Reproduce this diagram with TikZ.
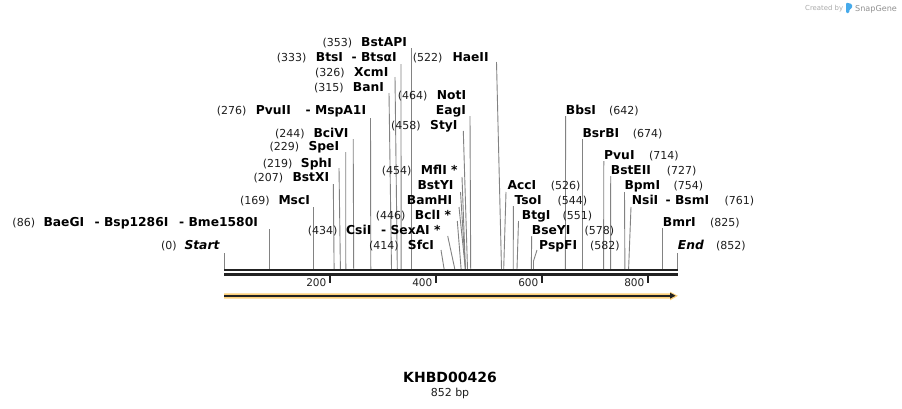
\documentclass[tikz,border=0pt]{standalone}
\usepackage{fontspec}
\setmainfont{DejaVu Sans}
\definecolor{linec}{RGB}{130,130,130}
\definecolor{numc}{RGB}{30,30,30}
\definecolor{barc}{RGB}{34,34,34}
\definecolor{orc}{RGB}{252,208,122}
\definecolor{logoc}{RGB}{70,170,235}
\definecolor{credc}{RGB}{170,170,170}
\begin{document}
\begin{tikzpicture}[x=1pt,y=-1pt,
  lbl/.style={font=\fontsize{12.3}{14}\selectfont\bfseries, inner sep=0pt, anchor=base west},
  lbli/.style={font=\fontsize{12.3}{14}\selectfont\bfseries\itshape, inner sep=0pt, anchor=base west},
  num/.style={font=\fontsize{11}{13}\selectfont, inner sep=0pt, anchor=base west, text=numc},
  cut/.style={draw=linec, line width=0.9pt},
  tick/.style={draw=barc, line width=2pt},
  ticklbl/.style={font=\fontsize{10.5}{12}\selectfont, inner sep=0pt, anchor=base east, text=barc}]
\useasboundingbox (0,0) rectangle (902,408);
\fill[white] (0,0) rectangle (902,408);

% ---- cut site coordinates (top, bottom) and connectors
\foreach \n/\tx/\ty/\bx in {
  0/224/253/224, 86/269.7/229/269.7, 169/313.9/207/313.9, 207/333.3/184/334.1,
  219/339/168/340.4, 229/345.7/152/345.8, 244/353.2/139/353.7, 276/370.5/118/370.8,
  315/389/93/391.5, 326/395/77/397.3, 333/401/64/401.1, 353/411.7/48/411.7,
  522/496.5/62/501.5, 464/470/116/470.7, 458/463.3/131/467.5,
  454a/462/177/465.4, 454b/460.5/192/465.4, 454c/459/207/465.4,
  446/457.3/221/461.1, 434/447.7/236/454.8, 414/441/250/444.1,
  526/506/192/503.7, 544/513.4/206/513.2, 551/518.5/221/517,
  578/531.7/236/531.3,
  642/565.6/116/565.4, 674/582.4/139/582.4, 714/603.8/161/603.6, 727/610.7/176/610.6,
  754/624.5/192/624.9, 761/631/207/628.6, 825/662.7/228/662.7, 852/677/253/677}{
  \coordinate (a\n) at (\tx,\ty);
  \coordinate (b\n) at (\bx,269);
  \draw[cut] (a\n) -- (b\n);
}
\coordinate (a582) at (537,250);
\coordinate (m582) at (533.5,261);
\coordinate (b582) at (533.5,269);
\draw[cut] (a582) -- (m582) -- (b582);

% ---- sequence bar
\coordinate (s0) at (224,270.2);
\coordinate (s1) at (677.5,270.2);
\coordinate (r0) at (224,274.3);
\coordinate (r1) at (677.5,274.3);
\draw[barc, line width=2.5pt] (s0) -- (s1);
\draw[barc, line width=2.5pt] (r0) -- (r1);
\foreach \x/\v in {330/200, 436/400, 542/600, 648/800}{
  \coordinate (k\v) at (\x,275);
  \coordinate (kk\v) at (\x,283);
  \draw[tick] (k\v) -- (kk\v);
  \node[ticklbl] (tl\v) at (\x-3.5,286) {\v};
}

% ---- feature arrow
\fill[orc] (224,293.3) -- (670,293.3) -- (670,291.7) -- (678,295.8) -- (670,300.3) -- (670,298.5) -- (224,298.5) -- cycle;
\coordinate (f0) at (224,295.7);
\coordinate (f1) at (671,295.7);
\draw[barc, line width=1.8pt] (f0) -- (f1);
\fill[barc] (670,292.7) -- (675.5,295.7) -- (670,298.7) -- cycle;

% ---- left group labels
\node[num] (n353) at (322.3,46) {(353)};
\node[lbl] (t353) at (361,46) {BstAPI};
\node[num] (n333) at (276.7,61.2) {(333)};
\node[lbl] (t333) at (315.7,61.2) {BtsI};
\node[lbl] (t333b) at (351.5,61.2) {- BtsαI};
\node[num] (n522) at (412.7,61.2) {(522)};
\node[lbl] (t522) at (452.3,61.2) {HaeII};
\node[num] (n326) at (315,76.8) {(326)};
\node[lbl] (t326) at (354,76.8) {XcmI};
\node[num] (n315) at (314,91.8) {(315)};
\node[lbl] (t315) at (352.7,91.8) {BanI};
\node[num] (n464) at (397.7,99.5) {(464)};
\node[lbl] (t464) at (436.7,99.5) {NotI};
\node[num] (n276) at (216.7,114.5) {(276)};
\node[lbl] (t276) at (255.7,114.5) {PvuII};
\node[lbl] (t276b) at (305.5,114.5) {- MspA1I};
\node[lbl] (t464b) at (435.7,114.5) {EagI};
\node[num] (n458) at (391,129.5) {(458)};
\node[lbl] (t458) at (430,129.5) {StyI};
\node[num] (n244) at (275,137) {(244)};
\node[lbl] (t244) at (313.3,137) {BciVI};
\node[num] (n229) at (269.3,150.5) {(229)};
\node[lbl] (t229) at (308.3,150.5) {SpeI};
\node[num] (n219) at (262.7,167.2) {(219)};
\node[lbl] (t219) at (300.7,167.2) {SphI};
\node[num] (n454) at (381.7,174.5) {(454)};
\node[lbl] (t454) at (420.7,174.5) {MflI *};
\node[num] (n207) at (253.3,181.8) {(207)};
\node[lbl] (t207) at (292.3,181.8) {BstXI};
\node[lbl] (t454b) at (417.3,189) {BstYI};
\node[num] (n169) at (240,204.5) {(169)};
\node[lbl] (t169) at (278.3,204.5) {MscI};
\node[lbl] (t454c) at (406.7,204.5) {BamHI};
\node[num] (n446) at (375.7,219) {(446)};
\node[lbl] (t446) at (414.7,219) {BclI *};
\node[num] (n86) at (12.3,226.2) {(86)};
\node[lbl] (t86) at (43.3,226.2) {BaeGI};
\node[lbl] (t86b) at (94.5,226.2) {- Bsp1286I};
\node[lbl] (t86c) at (179,226.2) {- Bme1580I};
\node[num] (n434) at (307.7,234.5) {(434)};
\node[lbl] (t434) at (346,234.5) {CsiI};
\node[lbl] (t434b) at (381,234.5) {- SexAI *};
\node[num] (n0) at (161,249.5) {(0)};
\node[lbli] (t0) at (184.3,249.5) {Start};
\node[num] (n414) at (369,249.5) {(414)};
\node[lbl] (t414) at (407.7,249.5) {SfcI};

% ---- right group labels
\node[lbl] (t642) at (565.7,114.5) {BbsI};
\node[num] (n642) at (609,114.5) {(642)};
\node[lbl] (t674) at (582.3,137) {BsrBI};
\node[num] (n674) at (632.7,137) {(674)};
\node[lbl] (t714) at (604,159.5) {PvuI};
\node[num] (n714) at (649,159.5) {(714)};
\node[lbl] (t727) at (610.7,174.5) {BstEII};
\node[num] (n727) at (666.7,174.5) {(727)};
\node[lbl] (t526) at (507.3,189) {AccI};
\node[num] (n526) at (550.7,189) {(526)};
\node[lbl] (t754) at (624.3,189) {BpmI};
\node[num] (n754) at (673.3,189) {(754)};
\node[lbl] (t544) at (514.3,204.5) {TsoI};
\node[num] (n544) at (557.3,204.5) {(544)};
\node[lbl] (t761) at (631.7,204.5) {NsiI};
\node[lbl] (t761b) at (665.5,204.5) {- BsmI};
\node[num] (n761) at (724.3,204.5) {(761)};
\node[lbl] (t551) at (521.7,219) {BtgI};
\node[num] (n551) at (562.3,219) {(551)};
\node[lbl] (t825) at (662.7,226.2) {BmrI};
\node[num] (n825) at (710,226.2) {(825)};
\node[lbl] (t578) at (531.7,234.5) {BseYI};
\node[num] (n578) at (584.3,234.5) {(578)};
\node[lbl] (t582) at (539,249.5) {PspFI};
\node[num] (n582) at (590,249.5) {(582)};
\node[lbli] (t852) at (677.7,249.5) {End};
\node[num] (n852) at (716,249.5) {(852)};

% ---- title
\node[font=\fontsize{14}{16}\selectfont\bfseries, inner sep=0pt, anchor=base] (title) at (450,382) {KHBD00426};
\node[font=\fontsize{11}{13}\selectfont, inner sep=0pt, anchor=base, text=numc] (len) at (450,396) {852 bp};

% ---- credit
\node[font=\fontsize{6.9}{8}\selectfont, inner sep=0pt, anchor=base west, text=credc] (cred) at (805,10.5) {Created by};
\fill[logoc, rounded corners=1.2pt] (846,2.5) -- (852,4) -- (852,8.5) -- (849.3,9.3) -- (849.3,13) -- (846,13) -- cycle;
\node[font=\fontsize{8.1}{9}\selectfont, inner sep=0pt, anchor=base west, text=credc!85!black] (snap) at (855,11) {SnapGene};
\end{tikzpicture}
\end{document}
